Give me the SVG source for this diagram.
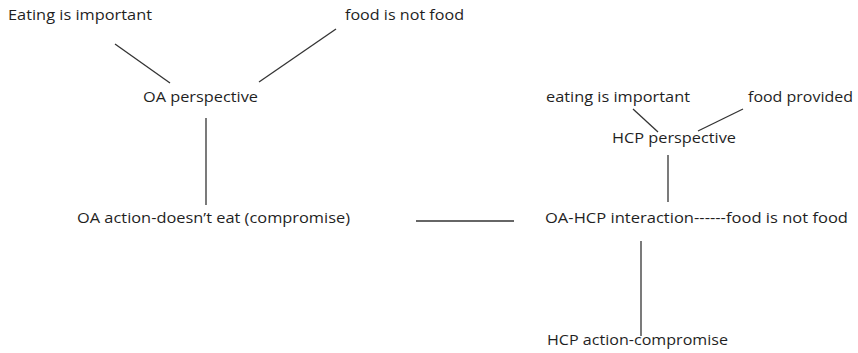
<svg xmlns="http://www.w3.org/2000/svg" width="858" height="353" viewBox="0 0 858 353">
<style>
text{font-family:"Open Sans","Liberation Sans",sans-serif;font-size:14px;fill:#1f1f1f}
.c line{stroke:#333;stroke-width:1.3}
</style>
<rect width="858" height="353" fill="#fff"/>
<g id="connectors" class="c">
<line x1="115" y1="44" x2="170" y2="83"/>
<line x1="336" y1="29" x2="259" y2="82"/>
<line x1="206" y1="118" x2="206" y2="205"/>
<line x1="416" y1="221" x2="514" y2="221"/>
<line x1="641" y1="241" x2="641" y2="336"/>
<line x1="633" y1="109" x2="658" y2="132"/>
<line x1="743" y1="109" x2="698" y2="131"/>
<line x1="668" y1="155" x2="668" y2="202"/>
</g>
<g id="n1"><text x="8" y="20" textLength="144" lengthAdjust="spacingAndGlyphs">Eating is important</text></g>
<g id="n2"><text x="345" y="20" textLength="119" lengthAdjust="spacingAndGlyphs">food is not food</text></g>
<g id="n3"><text x="143" y="102" textLength="115" lengthAdjust="spacingAndGlyphs">OA perspective</text></g>
<g id="n4"><text x="77" y="223" textLength="273" lengthAdjust="spacingAndGlyphs">OA action-doesn’t eat (compromise)</text></g>
<g id="n5"><text x="545" y="223" textLength="303" lengthAdjust="spacingAndGlyphs">OA-HCP interaction------food is not food</text></g>
<g id="n6"><text x="547" y="345" textLength="181" lengthAdjust="spacingAndGlyphs">HCP action-compromise</text></g>
<g id="n7"><text x="546" y="102" textLength="144" lengthAdjust="spacingAndGlyphs">eating is important</text></g>
<g id="n8"><text x="748" y="102" textLength="105" lengthAdjust="spacingAndGlyphs">food provided</text></g>
<g id="n9"><text x="612" y="143" textLength="124" lengthAdjust="spacingAndGlyphs">HCP perspective</text></g>
</svg>
